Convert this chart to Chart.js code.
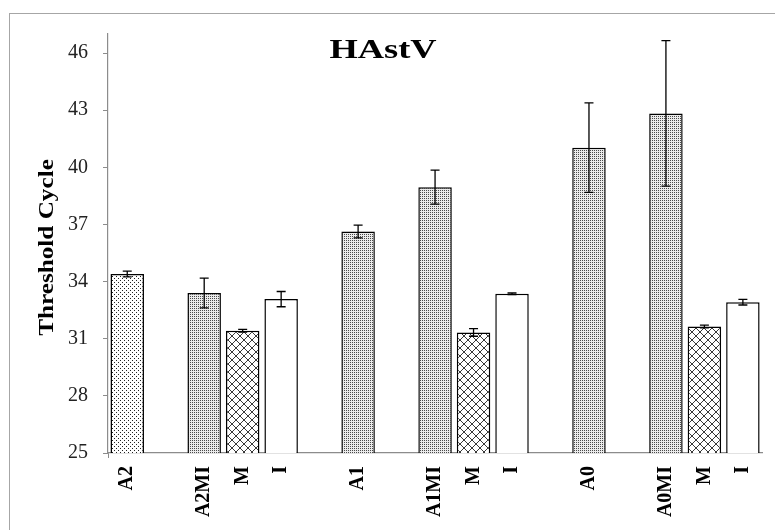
<!DOCTYPE html>
<html>
<head>
<meta charset="utf-8">
<title>HAstV Threshold Cycle</title>
<script src="https://cdn.jsdelivr.net/npm/chart.js@4.4.1/dist/chart.umd.min.js"></script>
<style>
    body { margin: 0; background: #fff; }
    #wrap { position: relative; width: 775px; height: 530px; overflow: hidden; }
    #frame { position: absolute; left: 9px; top: 13px; width: 800px; height: 600px;
             border-left: 1px solid #a6a6a6; border-top: 1px solid #a6a6a6; }
    #chart { position: absolute; left: 0; top: 0; }
</style>
</head>
<body>
<div id="wrap">
    <div id="frame"></div>
    <canvas id="chart" width="775" height="530"></canvas>
</div>
<script>
// Categories (empty strings are the gaps between groups)
const labels = ['A2', '', 'A2MI', 'M', 'I', '', 'A1', '', 'A1MI', 'M', 'I', '', 'A0', '', 'A0MI', 'M', 'I'];
// Mean threshold cycle per bar
const values = [34.4, null, 33.4, 31.42, 33.08, null, 36.63, null, 38.96, 31.33, 33.36, null, 41.03, null, 42.83, 31.64, 32.92];
// Error bar half-widths
const errors = [0.15, null, 0.78, 0.07, 0.4, null, 0.33, null, 0.89, 0.2, 0.04, null, 2.35, null, 3.82, 0.07, 0.15];
// Fill kind per bar
const fills = ['sparse', null, 'dense', 'cross', 'white', null, 'dense', null, 'dense', 'cross', 'white', null, 'dense', null, 'dense', 'cross', 'white'];
const yTicks = [25, 28, 31, 34, 37, 40, 43, 46];

const serif = '"Liberation Serif", "Times New Roman", serif';

function makePattern(kind) {
    const c = document.createElement('canvas');
    const g = c.getContext('2d');
    if (kind === 'sparse') {
        c.width = 4; c.height = 4;
        g.fillStyle = '#fff'; g.fillRect(0, 0, 4, 4);
        g.fillStyle = '#222';
        g.fillRect(0, 0, 1, 1);
        g.fillRect(2, 2, 1, 1);
    } else if (kind === 'dense') {
        c.width = 2; c.height = 2;
        g.fillStyle = '#ebebeb'; g.fillRect(0, 0, 2, 2);
        g.fillStyle = '#4a4a4a';
        g.fillRect(0, 0, 1, 1);
    } else if (kind === 'cross') {
        c.width = 8; c.height = 8;
        g.fillStyle = '#fff'; g.fillRect(0, 0, 8, 8);
        g.strokeStyle = '#222';
        g.lineWidth = 0.9;
        g.beginPath();
        g.moveTo(0, 0); g.lineTo(8, 8);
        g.moveTo(8, 0); g.lineTo(0, 8);
        g.stroke();
    } else {
        return '#ffffff';
    }
    return g.createPattern(c, 'repeat');
}

// Draws the error bars from the errors array
const errorBars = {
    id: 'errorBars',
    afterDatasetsDraw(chart) {
        const ctx = chart.ctx;
        const meta = chart.getDatasetMeta(0);
        const y = chart.scales.y;
        ctx.save();
        ctx.strokeStyle = '#000';
        ctx.lineWidth = 1.3;
        meta.data.forEach((bar, i) => {
            if (values[i] == null || errors[i] == null) return;
            const top = y.getPixelForValue(values[i] + errors[i]);
            const bot = y.getPixelForValue(values[i] - errors[i]);
            const x = bar.x;
            ctx.beginPath();
            ctx.moveTo(x, top); ctx.lineTo(x, bot);
            ctx.moveTo(x - 4.5, top); ctx.lineTo(x + 4.5, top);
            ctx.moveTo(x - 4.5, bot); ctx.lineTo(x + 4.5, bot);
            ctx.stroke();
        });
        ctx.restore();
    }
};

// Chart title inside the plot and the wide y-axis title
const titles = {
    id: 'titles',
    afterDraw(chart) {
        const ctx = chart.ctx;
        const area = chart.chartArea;
        ctx.save();
        ctx.fillStyle = '#000';
        ctx.textAlign = 'center';
        ctx.textBaseline = 'alphabetic';
        ctx.font = 'bold 26px ' + serif;
        ctx.translate(383, area.top + 24);
        ctx.scale(1.4, 1.05);
        ctx.fillText('HAstV', 0, 0);
        ctx.restore();

        ctx.save();
        ctx.fillStyle = '#000';
        ctx.textAlign = 'center';
        ctx.textBaseline = 'middle';
        ctx.font = 'bold 20px ' + serif;
        ctx.translate(48, (area.top + area.bottom) / 2 + 4);
        ctx.rotate(-Math.PI / 2);
        ctx.scale(1.26, 1);
        ctx.fillText('Threshold Cycle', 0, 0);
        ctx.restore();
    }
};

const ctx = document.getElementById('chart');
new Chart(ctx, {
    type: 'bar',
    data: {
        labels: labels,
        datasets: [{
            data: values,
            backgroundColor: fills.map(f => f ? makePattern(f) : 'transparent'),
            borderColor: '#000',
            borderWidth: 1.5,
            categoryPercentage: 1.0,
            barPercentage: 0.87
        }]
    },
    options: {
        responsive: false,
        animation: false,
        layout: { padding: { left: 0, right: 4, top: 34, bottom: 0 } },
        plugins: {
            legend: { display: false },
            tooltip: { enabled: false }
        },
        scales: {
            x: {
                afterFit: (axis) => { axis.height = 77; },
                grid: {
                    drawOnChartArea: false,
                    tickLength: 5,
                    color: (c) => (c.index === 0 || c.index === labels.length) ? '#8c8c8c' : 'transparent'
                },
                border: { color: '#8c8c8c', width: 1.2 },
                ticks: {
                    color: '#000',
                    font: { family: serif, size: 20, weight: 'bold' },
                    maxRotation: 90,
                    minRotation: 90,
                    autoSkip: false,
                    padding: 8
                }
            },
            y: {
                min: 25,
                max: 47,
                afterFit: (axis) => { axis.width = 108; },
                afterBuildTicks: (axis) => {
                    axis.ticks = yTicks.map(v => ({ value: v }));
                },
                grid: {
                    drawOnChartArea: false,
                    tickLength: 5,
                    color: '#8c8c8c'
                },
                border: { color: '#8c8c8c', width: 1.2 },
                ticks: {
                    color: '#222',
                    font: { family: serif, size: 20 },
                    padding: 15
                }
            }
        }
    },
    plugins: [errorBars, titles]
});
</script>
</body>
</html>
